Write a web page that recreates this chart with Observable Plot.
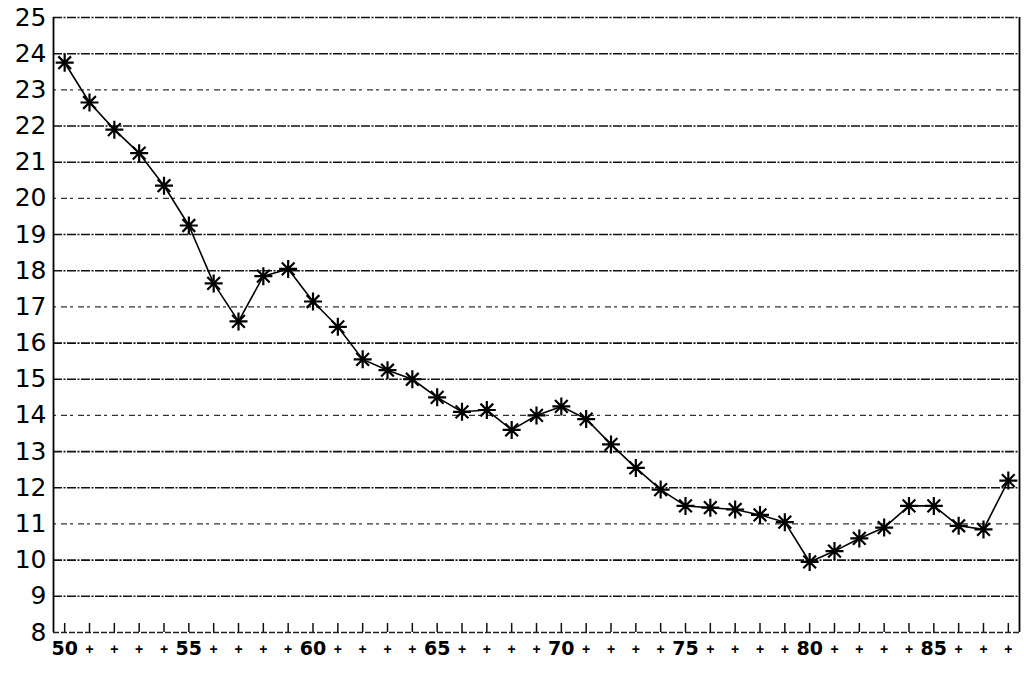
<!DOCTYPE html>
<html>
<head>
<meta charset="utf-8">
<script src="https://cdn.jsdelivr.net/npm/d3@7"></script>
<script src="https://cdn.jsdelivr.net/npm/@observablehq/plot@0.6"></script>
<style>
  html, body { margin: 0; padding: 0; background: #fff; }
  #chart svg { display: block; }
</style>
</head>
<body>
<div id="chart"></div>
<script>
const years = d3.range(1950, 1989);
const values = [
  23.75, 22.65, 21.9, 21.25, 20.35, 19.25, 17.65, 16.6, 17.85, 18.05,
  17.15, 16.45, 15.55, 15.25, 15.0, 14.5, 14.1, 14.15, 13.6, 14.0,
  14.25, 13.9, 13.2, 12.55, 11.95, 11.5, 11.45, 11.4, 11.25, 11.05,
  9.95, 10.25, 10.6, 10.9, 11.5, 11.5, 10.95, 10.85, 12.2
];
const xLabels = [
  "50","+","+","+","+","55","+","+","+","+",
  "60","+","+","+","+","65","+","+","+","+",
  "70","+","+","+","+","75","+","+","+","+",
  "80","+","+","+","+","85","+","+","+"
];
const yTicks = d3.range(8, 26);
const gridValues = d3.range(9, 26);
const xDomain = [1949.55, 1988.45];
const yDomain = [8, 25];

const data = years.map((year, i) => ({year, value: values[i]}));
const labelOf = new Map(years.map((y, i) => [y, xLabels[i]]));
const majorYears = years.filter(y => labelOf.get(y) !== "+");
const minorYears = years.filter(y => labelOf.get(y) === "+");

const star8 = {
  draw(ctx, size) {
    const r = Math.sqrt(size / Math.PI);
    for (let k = 0; k < 4; k++) {
      const a = k * Math.PI / 4;
      const dx = r * Math.cos(a), dy = r * Math.sin(a);
      ctx.moveTo(dx, dy);
      ctx.lineTo(-dx, -dy);
    }
  }
};

const lightGrid = v => (26 - v) % 3 === 0;

const chart = Plot.plot({
  width: 1024,
  height: 676,
  marginLeft: 53,
  marginRight: 5,
  marginTop: 17,
  marginBottom: 44,
  style: {background: "#fff", color: "#000"},
  x: {domain: xDomain, type: "linear"},
  y: {domain: yDomain},
  marks: [
    Plot.ruleY(gridValues.filter(v => !lightGrid(v)), {y: d => d, stroke: "#111", strokeWidth: 1.6, strokeDasharray: "9,1.5,2,1.5"}),
    Plot.ruleY(gridValues.filter(lightGrid), {y: d => d, stroke: "#333", strokeWidth: 1.3, strokeDasharray: "3,5,6,3"}),
    Plot.ruleY([yDomain[0]], {stroke: "#222", strokeWidth: 1.3, strokeDasharray: "6,2"}),
    Plot.ruleX(years, {x: d => d, y1: yDomain[0], y2: yDomain[0] + 0.25, stroke: "#111", strokeWidth: 1.5}),
    Plot.ruleX([xDomain[0]], {stroke: "#000", strokeWidth: 1.8}),
    Plot.ruleX([xDomain[1]], {stroke: "#000", strokeWidth: 1.8}),
    Plot.axisY({
      ticks: yTicks,
      tickSize: 0,
      tickPadding: 7,
      fontSize: 25,
      fontFamily: "DejaVu Sans, sans-serif",
      label: null
    }),
    Plot.axisX({
      ticks: majorYears,
      tickSize: 0,
      tickPadding: 9,
      tickFormat: d => labelOf.get(d),
      fontSize: 19,
      fontWeight: "bold",
      fontFamily: "DejaVu Sans, sans-serif",
      label: null
    }),
    Plot.axisX({
      ticks: minorYears,
      tickSize: 0,
      tickPadding: 12,
      tickFormat: d => labelOf.get(d),
      fontSize: 14,
      fontWeight: "bold",
      fill: "#000",
      fontFamily: "Liberation Sans, Arial, sans-serif",
      label: null
    }),
    Plot.line(data, {x: "year", y: "value", stroke: "#000", strokeWidth: 1.6}),
    Plot.dot(data, {x: "year", y: "value", symbol: star8, r: 9, fill: "none", stroke: "#000", strokeWidth: 2.2})
  ]
});

document.getElementById("chart").appendChild(chart);
</script>
</body>
</html>
